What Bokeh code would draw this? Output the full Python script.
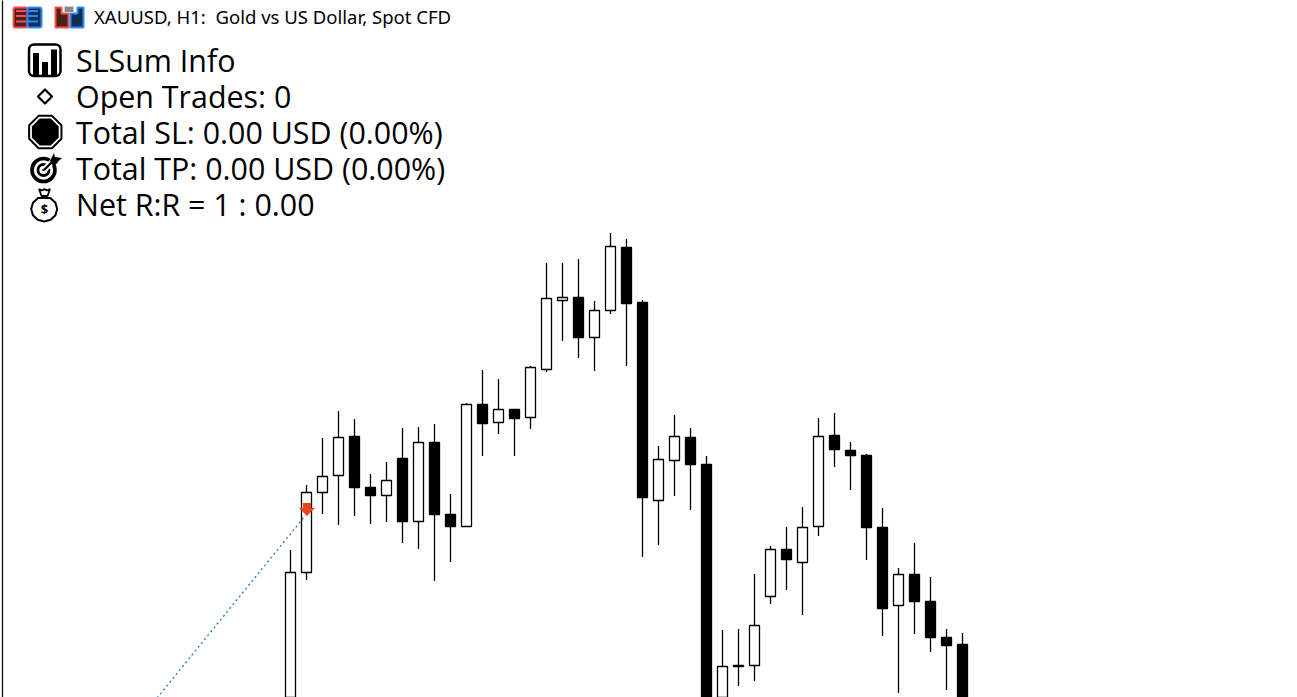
from bokeh.plotting import figure
from bokeh.models import Range1d
from bokeh.core.properties import value
from bokeh.embed import file_html
from bokeh.resources import INLINE
import math

# Candle data, measured in chart rows (smaller = higher price), index = bar number
highs  = [550,485,438,411,419,474,462,428,427,424,494,403,370,379,409,366,263,263,259,301,233,239,300,446,415,428,456,630,629,574,546,527,507,418,413,442,454,508,568,543,577,629,633]
lows   = [730,580,514,525,516,524,522,543,549,581,562,527,456,434,456,429,372,341,358,371,314,366,557,545,496,510,740,740,686,681,604,590,615,536,467,490,560,636,693,634,652,690,740]
opens  = [720,572.5,492.5,475.5,436.5,487.5,495.5,458.5,521.5,442.5,514.5,526.5,404.5,422.5,409.5,417.5,369.5,300.5,297.5,337.5,310.5,247.5,302.5,500.5,460.5,437.5,464.5,720,665.5,665.5,596.5,549.5,562.5,526.5,435.5,450.5,455.5,527.5,605.5,574.5,601.5,637.5,644.5]
closes = [572.5,492.5,476.5,437.5,487.5,495.5,480.5,521.5,442.5,514.5,526.5,404.5,423.5,409.5,418.5,367.5,298.5,297.5,337.5,310.5,246.5,303.5,497.5,459.5,436.5,464.5,720,666.5,666.5,625.5,549.5,559.5,527.5,436.5,449.5,455.5,527.5,608.5,574.5,601.5,637.5,645.5,720]

title_text = "XAUUSD, H1:\u00a0 Gold vs US Dollar, Spot CFD"
info_lines = ["SLSum Info", "Open Trades: 0", "Total SL: 0.00 USD (0.00%)", "Total TP: 0.00 USD (0.00%)", "Net R:R = 1 : 0.00"]

W, H = 1297, 697
BAR_PX, X0 = 16.0, 290.0
p = figure(width=W, height=H, output_backend="svg", toolbar_location=None,
           x_range=Range1d(-X0 / BAR_PX, (W - X0) / BAR_PX), y_range=Range1d(H + 0.5, 0.5),
           min_border=0, outline_line_color=None, x_axis_location=None, y_axis_location=None)
p.grid.visible = False
p.background_fill_color = "white"
p.border_fill_color = "white"
p.extra_x_ranges = {"px": Range1d(0.5, W + 0.5)}

idx = list(range(len(highs)))
p.segment(idx, highs, idx, lows, line_color="black", line_width=1.3)
fills = ["white" if c < o else "black" for o, c in zip(opens, closes)]
tops = [min(o, c) for o, c in zip(opens, closes)]
bots = [max(o, c) for o, c in zip(opens, closes)]
p.vbar(x=idx, width=10 / BAR_PX, top=tops, bottom=bots, fill_color=fills, line_color="black", line_width=1.3)

PX = dict(x_range_name="px")
# frame line
p.segment([2.5], [0], [2.5], [698], line_color="#111111", line_width=1.3, **PX)
# trade line + sell arrow
p.line([157, 305], [698, 516], line_color="#1c78cc", line_width=1.3, line_dash="2 3", **PX)
p.patch([303, 311, 311, 315, 307, 299, 303], [503, 503, 508, 508, 516, 508, 508], fill_color="#E8451C", line_color=None, **PX)

# title-bar icons
p.quad(left=[13.5], right=[27.5], top=[7.5], bottom=[27.5], fill_color="#4a2222", line_color="#ff4b4b", line_width=2, border_radius=2, **PX)
p.quad(left=[27.5], right=[41.5], top=[7.5], bottom=[27.5], fill_color="#12304f", line_color="#2f86ff", line_width=2, border_radius=2, **PX)
for y in (11, 16, 21.5):
    p.segment([16], [y], [26], [y], line_color="#ff4b4b", line_width=2, **PX)
    p.segment([28], [y], [38], [y], line_color="#2f86ff", line_width=2, **PX)
p.patch([55.5, 61.5, 61.5, 68.5, 68.5, 55.5], [7.5, 7.5, 13.5, 13.5, 27.5, 27.5], fill_color="#4a2218", line_color="#ff4b4b", line_width=2, **PX)
p.patch([70.5, 77.5, 77.5, 83.5, 83.5, 70.5], [13.5, 13.5, 7.5, 7.5, 27.5, 27.5], fill_color="#0f2f4f", line_color="#2f86ff", line_width=2, **PX)
p.quad(left=[64.5], right=[73.5], top=[6.5], bottom=[12.5], fill_color="#888888", line_color="#c8c8c8", line_width=1, **PX)

# stats icon
p.quad(left=[29], right=[60.5], top=[44.5], bottom=[76], fill_color="white", line_color="black", line_width=2.5, border_radius=5, **PX)
p.quad(left=[33, 42, 51], right=[39, 48, 57], top=[53, 62, 49.5], bottom=[75, 75, 75], fill_color="black", line_color=None, **PX)
# diamond
p.patch([45, 52, 45, 38], [89.5, 96.5, 103.5, 96.5], fill_color="white", line_color="black", line_width=2.2, line_join="round", **PX)

def poly(cx, cy, r, n=8, rot=math.pi / 8):
    return [cx + r * math.cos(rot + 2 * math.pi * k / n) for k in range(n)], [cy + r * math.sin(rot + 2 * math.pi * k / n) for k in range(n)]
# octagon
xs, ys = poly(45.3, 132, 17.5)
p.patch(xs, ys, fill_color="white", line_color="black", line_width=2, **PX)
xs, ys = poly(45.3, 132, 14.5)
p.patch(xs, ys, fill_color="black", line_color=None, **PX)
# target
p.circle([43.5], [170], radius=11.5, fill_color="white", line_color="black", line_width=3.6, **PX)
p.circle([43.5], [170], radius=5.5, fill_color="white", line_color="black", line_width=2.8, **PX)
p.circle([43.5], [170], radius=1.3, fill_color="black", line_color=None, **PX)
p.line([44, 57], [170, 157], line_color="white", line_width=6, **PX)
p.line([44, 54], [170, 160], line_color="black", line_width=2.4, **PX)
p.patch([50, 54, 55, 62, 57.5, 57.5, 53], [161, 153, 157, 158, 162, 163, 166], fill_color="black", line_color=None, **PX)
# money bag
th = [math.radians(a) for a in (-62, -30, 0, 30, 60, 90, 120, 150, 180, 210, 242)]
bx = [44.2 + 13 * math.cos(t) for t in th]
by = [209 + 12.5 * math.sin(t) for t in th]
p.patch(bx, by, fill_color="white", line_color="black", line_width=2, line_join="round", **PX)
p.patch([39, 42, 44.5, 47, 50, 47.5, 41.5], [189, 190.5, 189, 190.5, 189, 196, 196], fill_color="white", line_color="black", line_width=1.8, **PX)
p.text([44.5], [209], text=["$"], text_font_size="13px", text_font_style="bold", text_align="center", text_baseline="alphabetic", text_color="black", text_font=value("Open Sans"), **PX)

p.text([94], [16], text=[title_text], text_font=value("Noto Sans"), text_font_size="18.55px", text_color="black", text_baseline="alphabetic", **PX)
p.text([76] * 5, [60.5, 96.5, 132.5, 168.5, 204.5], text=info_lines, text_font=value("Open Sans"), text_font_size="30.4px", text_color="black", text_baseline="alphabetic", **PX)

open("out.html", "w").write(file_html(p, INLINE))
